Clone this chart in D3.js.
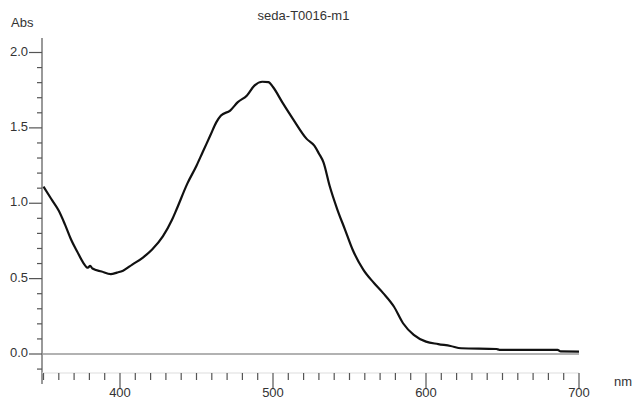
<!DOCTYPE html>
<html>
<head>
<meta charset="utf-8">
<title>seda-T0016-m1</title>
<script src="https://cdn.jsdelivr.net/npm/d3@7"></script>
<style>
  body { margin: 0; background: #fff; }
  svg text { font-family: "Liberation Sans", Arial, sans-serif; fill: #333; }
</style>
</head>
<body>
<svg width="632" height="399"></svg>
<script>
// spectrum
var wavelength = [350, 355, 360, 364, 368, 372, 376, 379, 380.5, 382, 388, 394, 398, 402,
  408, 415, 421, 428, 434, 437, 444, 450, 454, 459, 463, 466, 472, 477, 483, 488, 493, 497,
  500, 506, 513, 522, 527, 530, 533, 537, 542, 547, 552, 559, 566, 572, 579, 585, 592, 600,
  608, 616, 623, 646, 648, 686, 688, 700];
var absorb = [1.11, 1.03, 0.95, 0.86, 0.76, 0.68, 0.605, 0.572, 0.585, 0.567, 0.547,
  0.53, 0.54, 0.553, 0.593, 0.64, 0.693, 0.78, 0.89, 0.96, 1.13, 1.249, 1.338, 1.449, 1.538,
  1.582, 1.615, 1.671, 1.715, 1.782, 1.806, 1.804, 1.771, 1.671, 1.56, 1.427, 1.382, 1.33,
  1.271, 1.116, 0.96, 0.827, 0.693, 0.56, 0.471, 0.404, 0.315, 0.204, 0.127, 0.082, 0.066,
  0.053, 0.038, 0.033, 0.028, 0.027, 0.017, 0.016];

var yMajor = [0.0, 0.5, 1.0, 1.5, 2.0];
var xMajor = [400, 500, 600, 700];
var title = "seda-T0016-m1";

var svg = d3.select("svg");
var x = d3.scaleLinear().domain([350, 700]).range([43.5, 579]);
var y = d3.scaleLinear().domain([0, 2]).range([354, 52.5]);

var axisCol = "#555";

// title and units
svg.append("text").attr("x", 303.5).attr("y", 19.5).attr("text-anchor", "middle")
  .attr("font-size", "13px").text(title);
svg.append("text").attr("x", 11).attr("y", 27).attr("font-size", "13px").text("Abs");
svg.append("text").attr("x", 614).attr("y", 385.5).attr("font-size", "13px").text("nm");

// y axis
svg.append("line").attr("x1", 42).attr("x2", 42).attr("y1", 38).attr("y2", 384)
  .attr("stroke", axisCol).attr("stroke-width", 1.2);
var yMinor = d3.range(-1, 21).map(function(d) { return d / 10; });
svg.selectAll(".ytick").data(yMinor).enter().append("line")
  .attr("x1", function(d) { return yMajor.indexOf(d) >= 0 ? 29 : 37; })
  .attr("x2", 42)
  .attr("y1", function(d) { return y(d); })
  .attr("y2", function(d) { return y(d); })
  .attr("stroke", axisCol).attr("stroke-width", 1.2);
svg.selectAll(".ylab").data(yMajor).enter().append("text")
  .attr("x", 28).attr("y", function(d) { return y(d) + 3; })
  .attr("text-anchor", "end").attr("font-size", "13px")
  .text(function(d) { return d.toFixed(1); });

// x axis
svg.append("line").attr("x1", 42).attr("x2", 579).attr("y1", 373).attr("y2", 373)
  .attr("stroke", "#ddd").attr("stroke-width", 1);
var xMinor = d3.range(350, 701, 10);
svg.selectAll(".xtick").data(xMinor).enter().append("line")
  .attr("x1", function(d) { return x(d); })
  .attr("x2", function(d) { return x(d); })
  .attr("y1", 373)
  .attr("y2", function(d) { return xMajor.indexOf(d) >= 0 ? 389 : 380; })
  .attr("stroke", axisCol).attr("stroke-width", 1.2);
svg.selectAll(".xlab").data(xMajor).enter().append("text")
  .attr("x", function(d) { return x(d); }).attr("y", 397)
  .attr("text-anchor", "middle").attr("font-size", "13px")
  .text(function(d) { return d; });

// zero line
svg.append("line").attr("x1", 42).attr("x2", x(700)).attr("y1", y(0)).attr("y2", y(0))
  .attr("stroke", "#999").attr("stroke-width", 1.3);

// spectrum
var pts = wavelength.map(function(w, i) { return [w, absorb[i]]; });
var line = d3.line().curve(d3.curveMonotoneX)
  .x(function(d) { return x(d[0]); }).y(function(d) { return y(d[1]); });
svg.append("path").datum(pts).attr("d", line)
  .attr("fill", "none").attr("stroke", "#111").attr("stroke-width", 2.2)
  .attr("stroke-linejoin", "round");
</script>
</body>
</html>
